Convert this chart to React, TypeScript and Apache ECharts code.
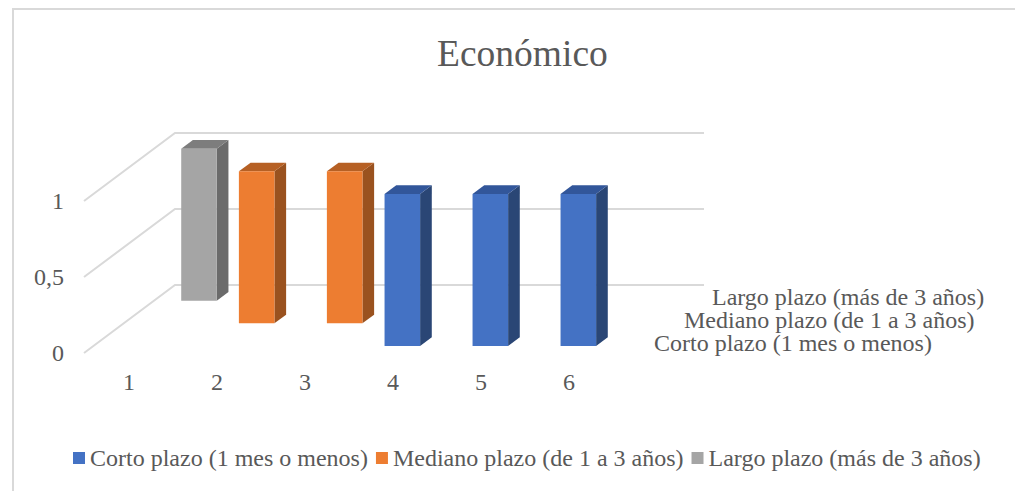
import React, { useEffect, useRef } from "react";
import * as echarts from "echarts";

const titleText = "Económico";
const categories = ["1", "2", "3", "4", "5", "6"];
const valueTicks = [0, 0.5, 1];
const cortoPlazo = [null, null, null, 1, 1, 1];
const medianoPlazo = [null, 1, 1, null, null, null];
const largoPlazo = [1, null, null, null, null, null];
const seriesNames = [
  "Corto plazo (1 mes o menos)",
  "Mediano plazo (de 1 a 3 años)",
  "Largo plazo (más de 3 años)",
];

const FONT = "Liberation Serif";
const TEXT = "#595959";
const WALL = "#D9D9D9";
const LABEL_SIZE = 24;

// Oblique projection of the chart's depth axis, in pixels.
const DEPTH_X = 91;
const DEPTH_Y = -68;
const ROWS = 3;
const BAR_DEPTH = 0.385;
const BAR_WIDTH = 0.404;

type Shades = { face: string; side: string; top: string };

const barRenderer = (row: number, shades: Shades) => (params: any, api: any) => {
  const value = api.value(1);
  if (value === null || value === undefined || Number.isNaN(value)) return null;
  const stepX = DEPTH_X / ROWS;
  const stepY = DEPTH_Y / ROWS;
  const offX = stepX * (row + 0.5 - BAR_DEPTH / 2);
  const offY = stepY * (row + 0.5 - BAR_DEPTH / 2);
  const dx = stepX * BAR_DEPTH;
  const dy = stepY * BAR_DEPTH;
  const width = api.size([1, 0])[0] * BAR_WIDTH;
  const [cx, y1] = api.coord([api.value(0), value]);
  const [, y0] = api.coord([api.value(0), 0]);
  const l = cx + offX - width / 2;
  const r = l + width;
  const t = y1 + offY;
  const b = y0 + offY;
  return {
    type: "group",
    children: [
      {
        type: "polygon",
        shape: { points: [[r, t], [r + dx, t + dy], [r + dx, b + dy], [r, b]] },
        style: { fill: shades.side },
      },
      {
        type: "polygon",
        shape: { points: [[l, t], [l + dx, t + dy], [r + dx, t + dy], [r, t]] },
        style: { fill: shades.top },
      },
      {
        type: "rect",
        shape: { x: l, y: t, width, height: b - t },
        style: { fill: shades.face },
      },
    ],
  };
};

// Each gridline runs across the side wall and then along the back wall.
const wallRenderer = (params: any, api: any) => {
  const grid = params.coordSys;
  const y = api.coord([0, api.value(1)])[1];
  const backX = grid.x + DEPTH_X;
  return {
    type: "polyline",
    shape: {
      points: [
        [grid.x - 1, y],
        [backX - 1, y + DEPTH_Y],
        [grid.x + grid.width + DEPTH_X, y + DEPTH_Y],
      ],
    },
    style: { stroke: WALL, lineWidth: 2, fill: "none" },
  };
};

const toPairs = (values: (number | null)[]) => values.map((v, i) => [i, v]);

const barSeries = (name: string, values: (number | null)[], row: number, shades: Shades) => ({
  type: "custom",
  name,
  z: 5 - row,
  silent: true,
  encode: { x: 0, y: 1 },
  itemStyle: { color: shades.face },
  renderItem: barRenderer(row, shades),
  data: toPairs(values),
});

const depthLabel = (text: string, x: number, y: number) => ({
  type: "text",
  x,
  y,
  style: {
    text,
    fill: TEXT,
    fontFamily: FONT,
    fontSize: LABEL_SIZE,
    verticalAlign: "middle",
  },
});

export default function App() {
  const ref = useRef<HTMLDivElement>(null);

  useEffect(() => {
    const chart = echarts.init(ref.current!, null, { renderer: "svg" });
    chart.setOption({
      animation: false,
      backgroundColor: "#FFFFFF",
      title: {
        text: titleText,
        left: 432,
        top: 29,
        textStyle: { color: TEXT, fontFamily: FONT, fontSize: 37.5, fontWeight: "normal" },
      },
      grid: { left: 85, top: 201, width: 528, height: 152 },
      xAxis: {
        type: "category",
        data: categories,
        axisLine: { show: false },
        axisTick: { show: false },
        splitLine: { show: false },
        axisLabel: { color: TEXT, fontFamily: FONT, fontSize: LABEL_SIZE, margin: 17 },
      },
      yAxis: {
        type: "value",
        min: 0,
        max: 1,
        interval: 0.5,
        axisLine: { show: false },
        axisTick: { show: false },
        splitLine: { show: false },
        axisLabel: {
          color: TEXT,
          fontFamily: FONT,
          fontSize: LABEL_SIZE,
          margin: 21,
          formatter: (v: number) => String(v).replace(".", ","),
        },
      },
      legend: {
        left: 68,
        top: 441,
        icon: "rect",
        itemWidth: 12,
        itemHeight: 12,
        itemGap: 8,
        data: seriesNames,
        textStyle: { color: TEXT, fontFamily: FONT, fontSize: LABEL_SIZE },
      },
      graphic: [
        {
          type: "polyline",
          shape: { points: [[13, 491], [13, 9], [1015, 9]] },
          style: { stroke: WALL, lineWidth: 2, fill: "none" },
        },
        depthLabel(seriesNames[2], 712, 297),
        depthLabel(seriesNames[1], 684, 320),
        depthLabel(seriesNames[0], 654, 343),
      ],
      series: [
        {
          type: "custom",
          name: "walls",
          z: 1,
          silent: true,
          encode: { x: 0, y: 1 },
          renderItem: wallRenderer,
          data: valueTicks.map((v) => [0, v]),
        },
        barSeries(seriesNames[0], cortoPlazo, 0, { face: "#4472C4", side: "#2A4675", top: "#32569A" }),
        barSeries(seriesNames[1], medianoPlazo, 1, { face: "#ED7D31", side: "#9A521F", top: "#B66024" }),
        barSeries(seriesNames[2], largoPlazo, 2, { face: "#A5A5A5", side: "#6B6B6B", top: "#7D7D7D" }),
      ],
    });
    return () => chart.dispose();
  }, []);

  return (
    <div
      ref={ref}
      style={{ position: "absolute", left: 0, top: 0, width: 1015, height: 491 }}
    />
  );
}
